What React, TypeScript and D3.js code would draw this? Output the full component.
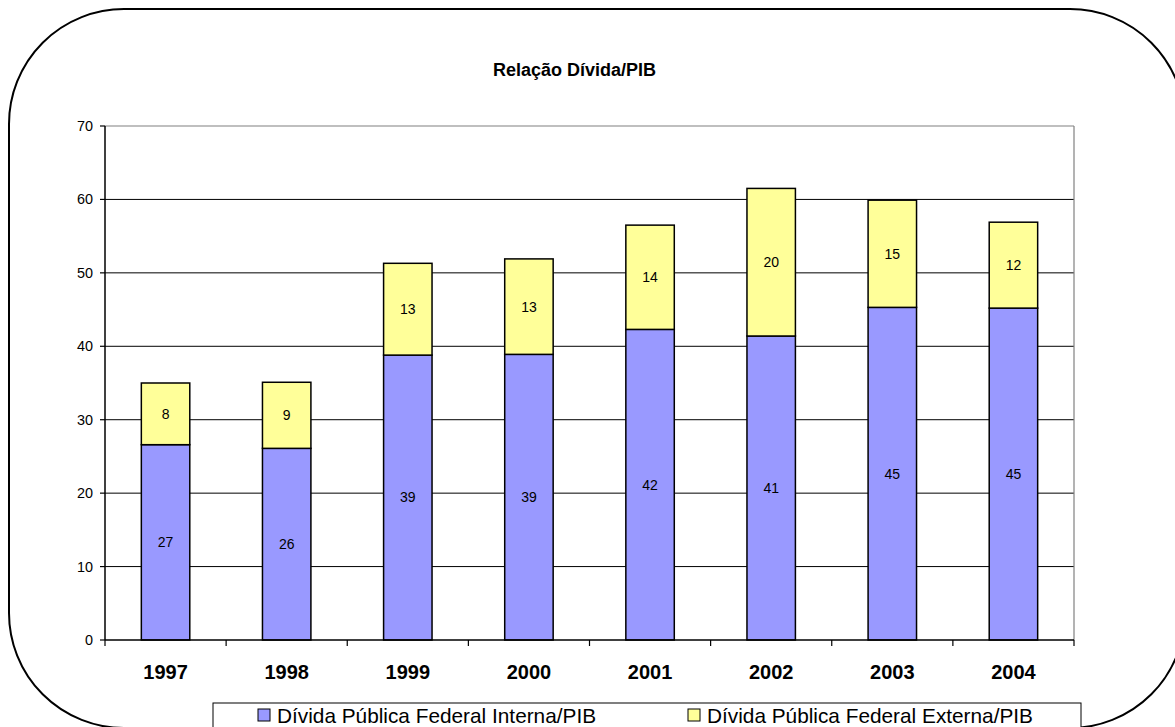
import React from "react";
import * as d3 from "d3";

const years = ["1997", "1998", "1999", "2000", "2001", "2002", "2003", "2004"];
const interna = [26.6, 26.1, 38.8, 38.9, 42.3, 41.4, 45.3, 45.2];
const externa = [8.4, 9.0, 12.5, 13.0, 14.2, 20.1, 14.6, 11.7];
const yTicks = [0, 10, 20, 30, 40, 50, 60, 70];
const seriesNames = ["Dívida Pública Federal Interna/PIB", "Dívida Pública Federal Externa/PIB"];
const seriesColors = ["#9999FF", "#FFFF99"];
const title = "Relação Dívida/PIB";

const W = 1175, H = 727;
const plot = { left: 105, right: 1074, top: 126, bottom: 640 };

export default function App() {
  const x = d3.scaleBand<string>().domain(years).range([plot.left, plot.right]).paddingInner(0.6).paddingOuter(0.3);
  const xb = d3.scaleBand<string>().domain(years).range([plot.left, plot.right]);
  const y = d3.scaleLinear().domain([0, 70]).range([plot.bottom, plot.top]);
  const font = "'Liberation Sans', Arial, sans-serif";
  const stacked = years.map((yr, i) => ({ yr, segs: [[0, interna[i]], [interna[i], interna[i] + externa[i]]] }));

  return (
    <svg width={W} height={H} style={{ position: "absolute", left: 0, top: 0, background: "#fff" }} fontFamily={font}>
      <rect x={9} y={9} width={1176} height={719} rx={115} ry={115} fill="#fff" stroke="#000" strokeWidth={2} />
      <text x={574.5} y={76} textAnchor="middle" fontWeight="bold" fontSize={18}>{title}</text>
      {/* gridlines */}
      {yTicks.filter(t => t > 0 && t < 70).map(t => (
        <line key={t} x1={plot.left} x2={plot.right} y1={y(t)} y2={y(t)} stroke="#000" strokeWidth={1} />
      ))}
      <line x1={plot.left} x2={plot.right} y1={y(70)} y2={y(70)} stroke="#808080" strokeWidth={1.2} />
      <line x1={plot.right} x2={plot.right} y1={y(70)} y2={y(0)} stroke="#808080" strokeWidth={1.2} />
      {/* bars */}
      {stacked.map(d => d.segs.map((s, k) => (
        <g key={d.yr + k}>
          <rect x={x(d.yr)} y={y(s[1])} width={x.bandwidth()} height={y(s[0]) - y(s[1])}
            fill={seriesColors[k]} stroke="#000" strokeWidth={1.5} />
          <text x={x(d.yr)! + x.bandwidth() / 2} y={(y(s[0]) + y(s[1])) / 2} dy="0.35em"
            textAnchor="middle" fontSize={14}>{Math.round(s[1] - s[0])}</text>
        </g>
      )))}
      {/* y axis */}
      <line x1={plot.left} x2={plot.left} y1={y(70)} y2={y(0)} stroke="#000" strokeWidth={1.5} />
      {yTicks.map(t => (
        <g key={t}>
          <line x1={plot.left - 5} x2={plot.left} y1={y(t)} y2={y(t)} stroke="#000" strokeWidth={1.2} />
          <text x={plot.left - 12} y={y(t)} dy="0.35em" textAnchor="end" fontSize={14.4}>{t}</text>
        </g>
      ))}
      {/* x axis */}
      <line x1={plot.left} x2={plot.right} y1={y(0)} y2={y(0)} stroke="#000" strokeWidth={1.5} />
      {years.concat(["end"]).map((yr, i) => {
        const xx = i < years.length ? xb(yr)! : plot.right;
        return <line key={"t" + i} x1={xx} x2={xx} y1={y(0)} y2={y(0) + 6} stroke="#000" strokeWidth={1.2} />;
      })}
      {years.map(yr => (
        <text key={"l" + yr} x={xb(yr)! + xb.bandwidth() / 2} y={679} textAnchor="middle" fontWeight="bold" fontSize={20}>{yr}</text>
      ))}
      {/* legend */}
      <rect x={213} y={703} width={868} height={40} fill="#fff" stroke="#000" strokeWidth={1} />
      {seriesNames.map((n, k) => {
        const lx = k === 0 ? 258 : 688;
        return (
          <g key={n}>
            <rect x={lx} y={709} width={12} height={12} fill={seriesColors[k]} stroke="#000" strokeWidth={1} />
            <text x={lx + 19} y={723} fontSize={20.8}>{n}</text>
          </g>
        );
      })}
    </svg>
  );
}
